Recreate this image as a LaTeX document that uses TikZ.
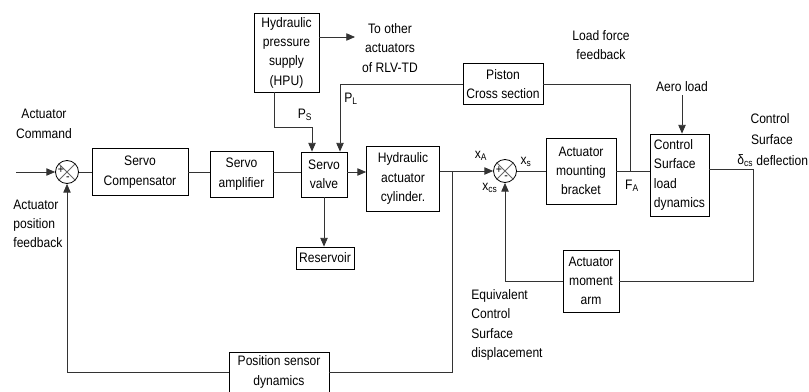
\documentclass[tikz,border=0pt]{standalone}
\usepackage{fontspec}
\setmainfont{Liberation Sans}[FakeStretch=0.88]
\usetikzlibrary{arrows.meta}
\begin{document}
\begin{tikzpicture}[x=0.75pt,y=-0.75pt,
  font=\fontsize{10.3}{14.5}\selectfont, line width=0.6pt,
  bx/.style 2 args={draw, minimum width=#1*0.75pt, minimum height=#2*0.75pt, inner sep=1pt, align=center},
  sj/.style={draw, circle, minimum size=23*0.75pt, inner sep=0pt},
  arr/.style={-{Triangle[length=6.5pt,width=5.5pt]}},
  lbl/.style={inner sep=0pt},
  sgn/.style={inner sep=0pt, font=\fontsize{9}{9}\selectfont},
  wire/.style={draw=black!80}
]
\useasboundingbox (0,0) rectangle (809,392);

% summing junctions
\node[sj] (s1) at (67,172) {};
\draw[black!60] (s1.north west) -- (s1.south east) (s1.north east) -- (s1.south west);
\node[sgn] (s1p) at (61,170) {+};
\node[sgn] (s1m) at (68,179) {-};
\node[sj] (s2) at (505,171) {};
\draw[black!60] (s2.north west) -- (s2.south east) (s2.north east) -- (s2.south west);
\node[sgn] (s2p) at (499,170) {+};
\node[sgn] (s2m) at (506,178) {-};

% blocks
\node[bx={96}{47}] (comp) at (140,172) {Servo\\Compensator};
\node[bx={63}{46}] (amp) at (241.5,174) {Servo\\amplifier};
\node[bx={46}{45}] (valve) at (324,174.5) {Servo\\valve};
\node[bx={73}{65}] (cyl) at (403,178.5) {Hydraulic\\actuator\\cylinder.};
\node[bx={65}{79}] (hpu) at (286.5,52.5) {Hydraulic\\pressure\\supply\\(HPU)};
\node[bx={58}{22}] (res) at (325,258) {Reservoir};
\node[bx={80}{41}] (piston) at (503,84) {Piston\\Cross section};
\node[bx={70}{66}] (brk) at (581,171) {Actuator\\mounting\\bracket};
\node[bx={59}{82}, align=left] (csld) at (679.5,175) {Control\\Surface\\load\\dynamics};
\node[bx={56}{62}] (arm) at (591,281) {Actuator\\moment\\arm};
\node[bx={100}{40}] (pos) at (279,372) {Position sensor\\dynamics};

% labels
\node[lbl, align=center] (cmd) at (44,124) {Actuator\\Command};
\node[lbl, align=left, anchor=west] (apf) at (13,224) {Actuator\\position\\feedback};
\node[lbl, align=center] (toother) at (390,48) {To other\\actuators\\of RLV-TD};
\node[lbl, align=center] (lff) at (601,45) {Load force\\feedback};
\node[lbl] (aero) at (682,87) {Aero load};
\node[lbl] (cs1) at (770,119) {Control};
\node[lbl] (cs2) at (772,140) {Surface};
\node[lbl, anchor=east] (cs3) at (808.5,161) {deflection};
\node[lbl, anchor=east] (dcs) at (cs3.west) {δ\textsubscript{cs}\,};
\node[lbl, align=left, anchor=west] (ecs) at (471,325) {Equivalent\\Control\\Surface\\displacement};
\node[lbl] (lfa) at (632,186) {F\textsubscript{A}};
\node[lbl] (lxa) at (481,156) {x\textsubscript{A}};
\node[lbl] (lxs) at (526,162) {x\textsubscript{s}};
\node[lbl] (lxcs) at (490,188) {x\textsubscript{cs}};
\node[lbl] (lps) at (305,115) {P\textsubscript{S}};
\node[lbl] (lpl) at (351,99) {P\textsubscript{L}};

% connectors
\coordinate (in) at (16,172);
\draw[wire, arr] (in) -- (s1.west);
\draw[wire] (s1.east) -- (comp.west);
\draw[wire] (comp.east) -- (comp.east -| amp.west);
\draw[wire] (amp.east |- comp.east) -- (valve.west |- comp.east);
\draw[wire, arr] (valve.east |- comp.east) -- (cyl.west |- comp.east);
\draw[wire, arr] (cyl.east |- s2.west) -- (s2.west);
\coordinate (br) at (452,171);
\draw[wire] (br) -- (br |- pos.east) -- (pos.east);
\draw[wire, arr] (pos.west) -- (s1.south |- pos.west) -- (s1.south);
\draw[wire] (s2.east) -- (brk.west);
\draw[wire] (brk.east) -- (brk.east -| csld.west);
\coordinate (fa) at (630,171);
\draw[wire] (piston.east) -- (piston.east -| fa) -- (fa);
\draw[wire, arr] (aero.south) ++(0,3) -- (aero.south |- csld.north);
\coordinate (oc) at (753,169);
\draw[wire] (csld.east |- oc) -- (oc) -- (oc |- arm.east) -- (arm.east);
\draw[wire, arr] (arm.west) -- (s2.south |- arm.west) -- (s2.south);
\coordinate (to) at (355,37);
\draw[wire, arr] (hpu.east |- to) -- (to);
\coordinate (ps1) at (274,127);
\coordinate (ps2) at (312,127);
\draw[wire, arr] (hpu.south -| ps1) -- (ps1) -- (ps2) -- (ps2 |- valve.north);
\coordinate (pl) at (340,84);
\draw[wire, arr] (piston.west) -- (pl) -- (pl |- valve.north);
\draw[wire, arr] (valve.south) -- (valve.south |- res.north);
\end{tikzpicture}
\end{document}
